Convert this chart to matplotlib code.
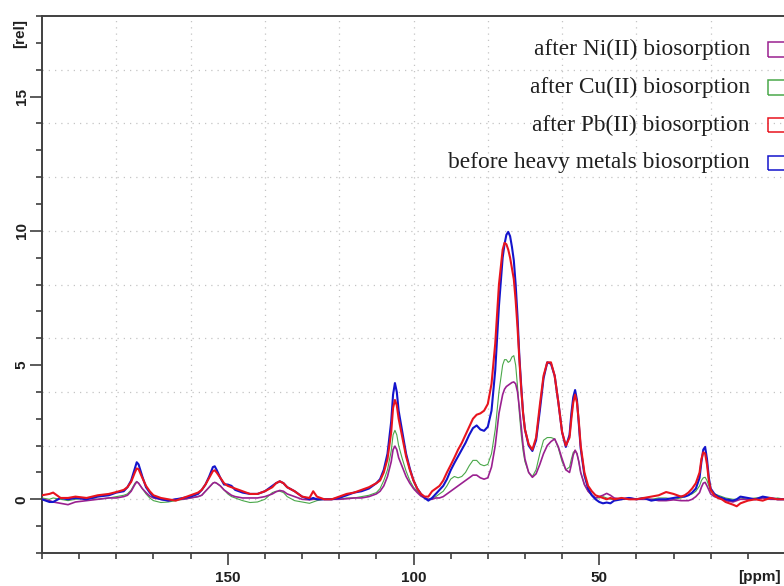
import matplotlib
matplotlib.use("Agg")
import matplotlib.pyplot as plt
from matplotlib.patches import Rectangle
from matplotlib.ticker import MultipleLocator, FixedLocator

# ---------------- data ----------------
ppm = [200, 198, 197, 195, 193, 191, 188, 185, 182, 180,
       178, 177, 176, 175, 174.5, 174, 173, 172, 171, 170,
       168, 166, 164, 162, 160, 158, 157, 156, 155, 154,
       153.5, 153, 152, 151, 150, 149, 148, 146, 144, 142,
       140, 138, 137, 136, 135, 134, 132, 130, 128, 127,
       126, 124, 122, 120, 118, 116, 114, 112, 110, 109,
       108, 107, 106, 105.5, 105, 104.5, 104, 103, 102, 101,
       100, 99, 98, 97, 96, 95, 94, 93, 92, 91,
       90, 89, 88, 87, 86, 85, 84, 83, 82, 81,
       80, 79, 78, 77, 76, 75.5, 75, 74.5, 74, 73.5,
       73, 72.5, 72, 71.5, 71, 70.5, 70, 69, 68, 67,
       66, 65, 64, 63, 62, 61, 60, 59, 58, 57.5,
       57, 56.5, 56, 55.5, 55, 54, 53, 52, 51, 50,
       49, 48, 47, 46, 44, 42, 40, 38, 36, 34,
       32, 30, 28, 27, 26, 25, 24, 23, 22.5, 22,
       21.5, 21, 20.5, 20, 19, 18, 17, 16, 14, 13,
       12, 10, 8, 6, 4, 2, 0]

before = [0.0, -0.1, -0.1, 0.05, 0.0, 0.05, 0.0, 0.1, 0.15, 0.25,
          0.3, 0.45, 0.7, 1.15, 1.38, 1.3, 0.85, 0.45, 0.25, 0.1,
          0.0, -0.05, 0.0, 0.05, 0.1, 0.2, 0.35, 0.55, 0.85, 1.2,
          1.23, 1.1, 0.8, 0.55, 0.55, 0.5, 0.35, 0.25, 0.2, 0.2,
          0.3, 0.5, 0.6, 0.67, 0.6, 0.45, 0.3, 0.1, 0.0, 0.05,
          0.0, 0.0, 0.0, 0.05, 0.15, 0.25, 0.3, 0.4, 0.6, 0.75,
          1.1, 1.7, 2.9, 3.9, 4.33, 4.0, 3.3, 2.5, 1.7, 1.15,
          0.7, 0.4, 0.2, 0.05, -0.05, 0.05, 0.2, 0.35, 0.5, 0.75,
          1.08, 1.35, 1.6, 1.85, 2.1, 2.4, 2.65, 2.75, 2.6, 2.55,
          2.7, 3.3, 4.8, 7.2, 9.0, 9.5, 9.85, 9.96, 9.8, 9.4,
          8.9, 8.0, 6.8, 5.3, 4.2, 3.2, 2.6, 2.0, 1.8, 2.2,
          3.3, 4.5, 5.1, 5.05, 4.6, 3.6, 2.5, 1.95, 2.4, 3.2,
          3.8, 4.07, 3.7, 2.8, 1.9, 0.9, 0.4, 0.15, 0.0, -0.1,
          -0.15, -0.12, -0.15, -0.05, 0.0, 0.05, 0.0, 0.05, -0.05, 0.0,
          0.0, 0.05, 0.1, 0.1, 0.15, 0.25, 0.4, 0.8, 1.4, 1.85,
          1.95, 1.5, 0.8, 0.4, 0.2, 0.1, 0.05, 0.0, -0.05, 0.0,
          0.1, 0.05, 0.0, 0.1, 0.05, 0.0, 0.0]

pb = [0.15, 0.2, 0.25, 0.05, 0.05, 0.1, 0.05, 0.15, 0.2, 0.27,
      0.35, 0.45, 0.65, 1.0, 1.15, 1.12, 0.8, 0.5, 0.3, 0.15,
      0.05, 0.0, -0.05, 0.05, 0.15, 0.25, 0.35, 0.55, 0.8, 1.05,
      1.08, 1.0, 0.8, 0.6, 0.5, 0.45, 0.4, 0.3, 0.2, 0.2,
      0.3, 0.45, 0.6, 0.67, 0.6, 0.45, 0.3, 0.1, 0.05, 0.3,
      0.1, 0.0, 0.0, 0.1, 0.2, 0.25, 0.35, 0.45, 0.6, 0.7,
      1.0, 1.5, 2.5, 3.4, 3.7, 3.5, 3.0, 2.3, 1.6, 1.1,
      0.7, 0.4, 0.2, 0.1, 0.1, 0.3, 0.4, 0.5, 0.7, 1.0,
      1.27, 1.55, 1.85, 2.1, 2.4, 2.7, 3.0, 3.15, 3.2, 3.3,
      3.55, 4.3, 5.8, 8.0, 9.3, 9.55, 9.5, 9.3, 9.0, 8.6,
      8.2, 7.4, 6.4, 5.2, 4.1, 3.2, 2.6, 2.05, 1.85, 2.3,
      3.5, 4.6, 5.1, 5.1, 4.6, 3.6, 2.5, 2.0, 2.3, 3.0,
      3.6, 3.9, 3.6, 2.9, 2.0, 1.0, 0.5, 0.3, 0.15, 0.1,
      0.05, 0.0, 0.05, 0.0, 0.05, 0.0, 0.0, 0.05, 0.1, 0.15,
      0.27, 0.2, 0.1, 0.15, 0.25, 0.4, 0.6, 1.0, 1.5, 1.75,
      1.7, 1.3, 0.7, 0.35, 0.15, 0.05, 0.0, -0.1, -0.2, -0.26,
      -0.15, -0.05, 0.0, -0.05, 0.05, 0.0, 0.0]

cu = [0.05, 0.0, 0.05, 0.0, -0.05, 0.0, 0.05, 0.0, 0.05, 0.1,
      0.15, 0.2, 0.35, 0.6, 0.67, 0.6, 0.4, 0.2, 0.05, -0.05,
      -0.12, -0.1, -0.05, 0.0, 0.05, 0.1, 0.15, 0.3, 0.45, 0.6,
      0.63, 0.6, 0.5, 0.35, 0.2, 0.1, 0.05, -0.05, -0.12, -0.1,
      0.0, 0.25, 0.3, 0.3, 0.25, 0.1, -0.05, -0.1, -0.15, -0.1,
      -0.05, 0.0, 0.0, 0.0, 0.05, 0.05, 0.1, 0.15, 0.25, 0.4,
      0.7, 1.1, 1.8, 2.4, 2.57, 2.4, 2.0, 1.5, 1.05, 0.7,
      0.45, 0.3, 0.15, 0.05, 0.0, 0.05, 0.1, 0.2, 0.3, 0.5,
      0.75, 0.85, 0.8, 0.85, 1.0, 1.25, 1.45, 1.45, 1.3, 1.25,
      1.3, 1.7, 2.6, 4.0, 5.0, 5.2, 5.2, 5.1, 5.15, 5.3,
      5.35, 5.0, 4.2, 3.2, 2.4, 1.8, 1.4, 1.0, 0.85, 1.1,
      1.7, 2.2, 2.3, 2.3, 2.25, 1.9, 1.4, 1.1, 1.2, 1.5,
      1.75, 1.8, 1.7, 1.4, 1.0, 0.55, 0.3, 0.15, 0.05, 0.05,
      0.1, 0.05, 0.0, 0.0, 0.05, 0.0, 0.0, 0.0, 0.0, 0.05,
      0.05, 0.0, 0.05, 0.1, 0.15, 0.2, 0.3, 0.5, 0.7, 0.8,
      0.82, 0.7, 0.5, 0.3, 0.2, 0.15, 0.1, 0.05, 0.0, 0.0,
      0.05, 0.0, 0.05, 0.05, 0.0, 0.05, 0.0]

ni = [0.0, -0.05, -0.1, -0.15, -0.2, -0.1, -0.05, 0.0, 0.05, 0.05,
      0.1, 0.15, 0.3, 0.55, 0.65, 0.6, 0.4, 0.25, 0.12, 0.05,
      0.0, -0.05, 0.0, 0.0, 0.05, 0.1, 0.15, 0.3, 0.45, 0.6,
      0.63, 0.6, 0.5, 0.35, 0.25, 0.15, 0.1, 0.05, 0.05, 0.05,
      0.1, 0.2, 0.28, 0.33, 0.3, 0.2, 0.1, 0.0, -0.02, 0.0,
      0.0, 0.0, 0.0, 0.0, 0.02, 0.05, 0.05, 0.1, 0.2, 0.3,
      0.5, 0.85, 1.4, 1.85, 1.98, 1.85, 1.55, 1.2, 0.85, 0.6,
      0.4, 0.25, 0.12, 0.05, 0.0, 0.0, 0.05, 0.05, 0.1, 0.2,
      0.3, 0.4, 0.5, 0.6, 0.7, 0.8, 0.9, 0.9, 0.8, 0.75,
      0.8, 1.2, 2.0, 3.2, 3.9, 4.1, 4.2, 4.25, 4.3, 4.35,
      4.37, 4.3, 4.0, 3.4, 2.7, 2.0, 1.5, 1.0, 0.82, 0.95,
      1.3, 1.7, 2.0, 2.15, 2.25, 1.95, 1.5, 1.1, 1.0, 1.3,
      1.65, 1.83, 1.7, 1.4, 1.0, 0.55, 0.3, 0.15, 0.05, 0.1,
      0.15, 0.22, 0.15, 0.05, 0.0, 0.05, 0.0, 0.0, 0.0, -0.05,
      -0.05, -0.02, -0.05, -0.05, -0.05, 0.0, 0.1, 0.25, 0.45, 0.6,
      0.63, 0.5, 0.35, 0.2, 0.1, 0.05, 0.0, -0.05, -0.1, -0.05,
      0.0, 0.0, 0.0, 0.05, 0.0, 0.0, 0.0]

labels = ["after Ni(II) biosorption", "after Cu(II) biosorption",
          "after Pb(II) biosorption", "before heavy metals biosorption"]
colors = ["#9a2090", "#4aa84a", "#e8141e", "#1414cc"]

x_major = [150, 100, 50]
y_major = [0, 5, 10, 15]
x_grid = [180, 160, 140, 120, 100, 80, 60, 40, 20]
y_grid = [0, 2, 4, 6, 8, 10, 12, 14, 16]

for s in (before, pb, cu, ni):
    assert len(s) == len(ppm)

# ---------------- figure ----------------
W, H = 784, 586
fig = plt.figure(figsize=(W / 100, H / 100), dpi=100)
L, R, T, B = 42, 785, 16, 553
ax = fig.add_axes([L / W, 1 - B / H, (R - L) / W, (B - T) / H])

for g in x_grid:
    ax.axvline(g, color="#c4c4c4", lw=0.9, ls=(0, (1, 4)), zorder=0)
for g in y_grid:
    ax.axhline(g, color="#c4c4c4", lw=0.9, ls=(0, (1, 4)), zorder=0)

series = [(cu, colors[1], 0.8), (ni, colors[0], 1.2),
          (before, colors[3], 1.5), (pb, colors[2], 1.5)]
for vals, c, lw in series:
    ax.plot(ppm, vals, color=c, lw=lw, zorder=3)

ax.set_xlim(200, 0)
ax.set_ylim(-2, 18)

ax.xaxis.set_major_locator(FixedLocator(x_major))
ax.xaxis.set_minor_locator(MultipleLocator(10))
ax.yaxis.set_major_locator(FixedLocator(y_major))
ax.yaxis.set_minor_locator(MultipleLocator(1))

tick_font = dict(family="Liberation Sans", weight="bold", size=11)
ax.set_xticklabels([str(v) for v in x_major], **tick_font, color="#202020")
ax.set_yticklabels([str(v) for v in y_major], **tick_font, color="#202020",
                   rotation=90, va="center")
ax.tick_params(which="major", direction="out", length=8.6, width=1.2,
               color="#404040")
ax.tick_params(axis="x", which="major", pad=4)
ax.tick_params(axis="y", which="major", pad=1)
ax.tick_params(which="minor", direction="out", length=4.5, width=1.2,
               color="#404040")

for side in ("left", "bottom", "top"):
    ax.spines[side].set_color("#404040")
    ax.spines[side].set_linewidth(1.4)
ax.spines["right"].set_visible(False)

fig.text(20 / W, 1 - 34 / H, "[rel]", rotation=90, ha="center", va="center",
         **tick_font, color="#202020")
fig.text(759 / W, 1 - 577 / H, "[ppm]", ha="center", va="center",
         **tick_font, color="#202020")

# legend (text right-aligned, open boxes at right edge)
rows_y = [49.5, 87.5, 125, 162.5]
for lab, c, yc in zip(labels, colors, rows_y):
    fig.text(750 / W, 1 - yc / H, lab, ha="right", va="center",
             family="Liberation Serif", size=16.8, color="#202020")
    fig.patches.append(Rectangle((768 / W, 1 - (yc + 7) / H), 22 / W, 14 / H,
                                 transform=fig.transFigure, fill=False,
                                 edgecolor=c, lw=1.1))

fig.savefig("out.png", dpi=100)
